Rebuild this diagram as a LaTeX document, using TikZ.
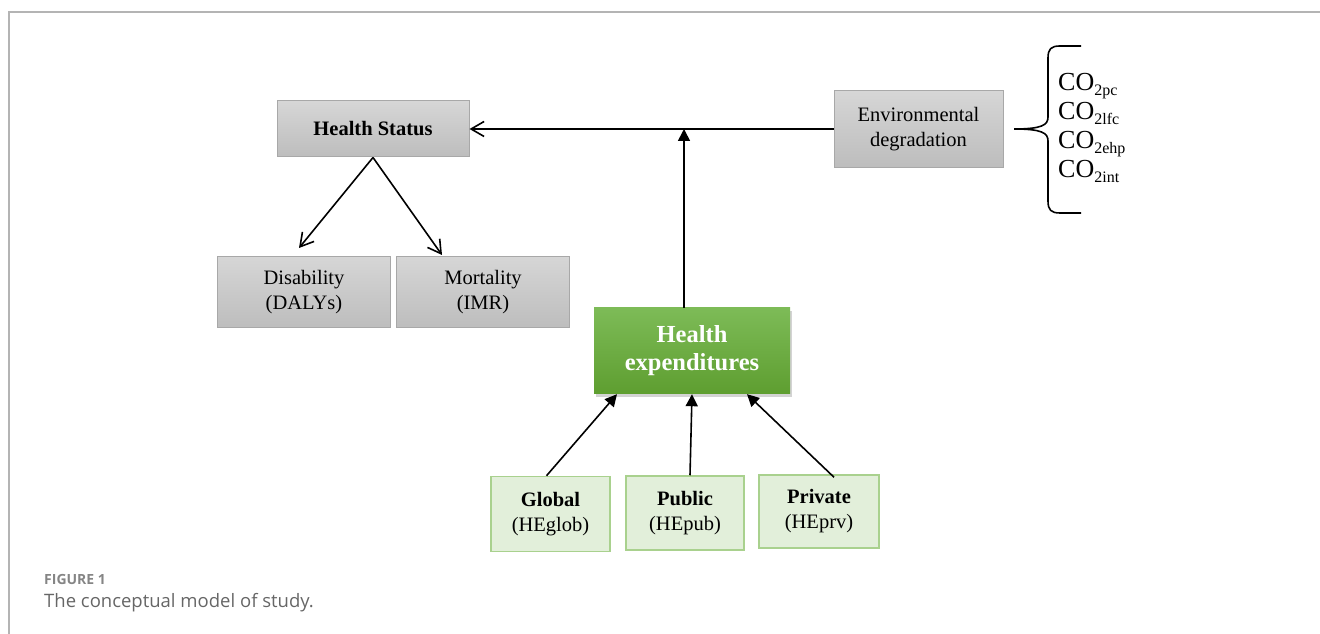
\documentclass[tikz,border=0pt]{standalone}
\usepackage{fontspec}
\setmainfont{Liberation Serif}
\newfontfamily\capfont{Open Sans}
\usetikzlibrary{arrows.meta}
\usetikzlibrary{shadows}
\definecolor{graytop}{HTML}{D6D6D6}
\definecolor{graybot}{HTML}{BDBDBD}
\definecolor{grayline}{HTML}{A8A8A8}
\definecolor{greentop}{HTML}{7DBB57}
\definecolor{greenbot}{HTML}{5E9E30}
\definecolor{lightgreen}{HTML}{E2EFDA}
\definecolor{greenline}{HTML}{A9D18E}
\definecolor{framegray}{HTML}{B4B4B4}
\definecolor{capgray}{HTML}{666666}
\newcommand{\cotwo}[1]{CO\raisebox{-5pt}{\fontsize{16}{16}\selectfont #1}}

\begin{document}
\begin{tikzpicture}[x=1pt,y=1pt]
	    \tikzstyle{graybox}=[draw=grayline, line width=1pt, top color=graytop, bottom color=graybot, inner sep=0pt, align=center, font=\fontsize{20.5}{25}\selectfont]
	    \tikzstyle{greenbox}=[top color=greentop, bottom color=greenbot, inner sep=0pt, align=center, text=white, font=\fontsize{24.5}{28}\selectfont\bfseries, drop shadow={shadow xshift=2pt, shadow yshift=-3pt, opacity=.35}]
	    \tikzstyle{srcbox}=[draw=greenline, line width=1.5pt, fill=lightgreen, inner sep=0pt, align=center, font=\fontsize{20.5}{25}\selectfont]
	    \tikzstyle{colabel}=[anchor=base west, inner sep=0pt, font=\fontsize{26}{29}\selectfont]
	    \tikzstyle{openedge}=[draw, line width=1.6pt, black, -{Straight Barb[length=13pt,width=15pt,line width=1.6pt]}]
	    \tikzstyle{fulledge}=[draw, line width=1.6pt, black, -{Triangle[length=12pt,width=12pt]}]
	    \useasboundingbox (0,0) rectangle (1320,634);
	    \draw[framegray, line width=1.5pt] (1320,622) -- (9,622) -- (9,0);
	    \node[graybox, minimum width=192, minimum height=56] (hs) at (373,505) {\bfseries Health Status};
	    \node[graybox, minimum width=173, minimum height=71] (dis) at (304,342) {Disability\\(DALYs)};
	    \node[graybox, minimum width=173, minimum height=71] (mort) at (483,342) {Mortality\\(IMR)};
	    \node[graybox, minimum width=169, minimum height=77] (env) at (918.5,505) {Environmental\\degradation};
	    \node[greenbox, minimum width=196, minimum height=86] (he) at (692,283) {Health\\expenditures};
	    \node[srcbox, minimum width=119, minimum height=75] (glob) at (550.5,120) {\bfseries Global\\(HEglob)};
	    \node[srcbox, minimum width=118, minimum height=74] (pub) at (685,121) {\bfseries Public\\(HEpub)};
	    \node[srcbox, minimum width=120, minimum height=73] (prv) at (819,122.5) {\bfseries Private\\(HEprv)};
	    \node[colabel] (co1) at (1058,543) {\cotwo{2pc}};
	    \node[colabel] (co2) at (1058,514) {\cotwo{2lfc}};
	    \node[colabel] (co3) at (1058,485) {\cotwo{2ehp}};
	    \node[colabel] (co4) at (1058,456) {\cotwo{2int}};
	    \coordinate (junc) at (684,505);
	    \draw[openedge] (env.west) -- (hs.east);
	    \draw[openedge] (hs.south) -- ([xshift=-5pt,yshift=8pt]dis.north);
	    \draw[openedge] (hs.south) -- ([xshift=-41pt,yshift=1pt]mort.north);
	    \draw[fulledge] (junc |- he.north) -- (junc);
	    \draw[fulledge] ([xshift=-4pt]glob.north) -- ([xshift=-75pt]he.south);
	    \draw[fulledge] ([xshift=5pt]pub.north) -- (he.south);
	    \draw[fulledge] ([xshift=15pt,yshift=-3pt]prv.north) -- ([xshift=55pt]he.south);
	    % brace
	    \draw[line width=1.6pt] (1081,588) -- (1060,588) .. controls (1051,588) and (1048,585) .. (1048,576) -- (1048,517) .. controls (1048,509) and (1042,505) .. (1014,505) .. controls (1042,505) and (1048,501) .. (1048,493) -- (1048,433) .. controls (1048,424) and (1051,421) .. (1060,421) -- (1081,421);
	    \node[anchor=base west, inner sep=0pt, text=capgray!80, font=\capfont\fontsize{14}{16}\selectfont\bfseries] (fig) at (44,49) {FIGURE 1};
	    \node[anchor=base west, inner sep=0pt, text=capgray, font=\capfont\fontsize{18.5}{22}\selectfont] (cap) at (44,26) {The conceptual model of study.};
	\end{tikzpicture}
\end{document}
